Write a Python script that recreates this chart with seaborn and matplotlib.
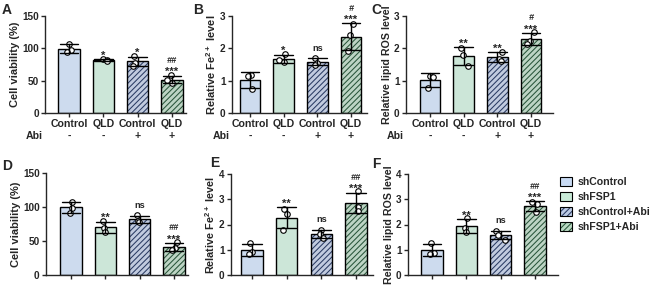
import numpy as np
import pandas as pd
import matplotlib
matplotlib.use("Agg")
import matplotlib.pyplot as plt
import matplotlib.colors as mcolors
import matplotlib.transforms as mtrans
from matplotlib.patches import Patch
import seaborn as sns

# ---------------- data ----------------
groups = ["shControl", "shFSP1", "shControl+Abi", "shFSP1+Abi"]
xlabels_top = ["Control", "QLD", "Control", "QLD"]
abi_signs = ["-", "-", "+", "+"]

viab_A = [[107, 97, 95], [83.5, 82, 80.5], [88, 78, 73], [58, 51, 46]]
fe_B = [[1.17, 1.14, 0.75], [1.82, 1.65, 1.57], [1.70, 1.55, 1.49], [2.75, 2.40, 1.92]]
ros_C = [[1.15, 1.12, 0.78], [2.00, 1.80, 1.45], [1.90, 1.68, 1.60], [2.50, 2.22, 2.14]]
viab_D = [[108, 99, 91], [79, 69, 63], [88, 80, 78], [48, 40, 37]]
fe_E = [[1.25, 0.90, 0.82], [2.60, 2.40, 1.80], [1.78, 1.62, 1.46], [3.32, 2.70, 2.55]]
ros_F = [[1.28, 0.88, 0.84], [2.25, 1.88, 1.72], [1.74, 1.60, 1.40], [2.88, 2.80, 2.50]]

# significance vs. control (stars / ns) and vs. Abi alone (#)
star_A = ["", "*", "*", "***"];   hash_A = ["", "", "", "##"]
star_B = ["", "*", "ns", "***"];  hash_B = ["", "", "", "#"]
star_C = ["", "**", "**", "***"]; hash_C = ["", "", "", "#"]
star_D = ["", "**", "ns", "***"]; hash_D = ["", "", "", "##"]
star_E = ["", "**", "ns", "***"]; hash_E = ["", "", "", "##"]
star_F = ["", "**", "ns", "***"]; hash_F = ["", "", "", "##"]

ylab_viab = "Cell viability (%)"
ylab_fe = r"Relative Fe$^{\mathbf{2+}}$ level"
ylab_ros = "Relative lipid ROS level"

ticks_viab = [0, 50, 100, 150]
ticks_3 = [0, 1, 2, 3]
ticks_4 = [0, 1, 2, 3, 4]

# ---------------- style ----------------
fill_colors = ["#c8daf3", "#c8ead7", "#bccae4", "#b9d8c2"]
hatch_colors = [None, None, "#2a3b63", "#29553a"]
hatches = [None, None, "//////", "//////"]

sns.set_style("ticks")
plt.rcParams["font.family"] = ["Liberation Sans", "DejaVu Sans"]
plt.rcParams["font.weight"] = "bold"
plt.rcParams["mathtext.fontset"] = "custom"
plt.rcParams["mathtext.rm"] = "Liberation Sans:bold"
plt.rcParams["mathtext.bf"] = "Liberation Sans:bold"
plt.rcParams["hatch.linewidth"] = 0.75
plt.rcParams["axes.linewidth"] = 1.0

W, H = 660, 287
fig = plt.figure(figsize=(W / 100, H / 100), dpi=100)

# panel layout in pixels: left, right, top, bottom, first bar centre, last bar centre
panels = [
    dict(vals=viab_A, star=star_A, hsh=hash_A, ylab=ylab_viab, yfs=8.0, ticks=ticks_viab, box=(45, 186, 16, 113, 69, 172), top=True, letter="A", lpos=(2, 3)),
    dict(vals=fe_B, star=star_B, hsh=hash_B, ylab=ylab_fe, yfs=8.0, ticks=ticks_3, box=(232, 367, 16, 113, 250, 351), top=True, letter="B", lpos=(193, 3)),
    dict(vals=ros_C, star=star_C, hsh=hash_C, ylab=ylab_ros, yfs=7.7, ticks=ticks_3, box=(406, 553, 16, 113, 430, 531), top=True, letter="C", lpos=(371, 3)),
    dict(vals=viab_D, star=star_D, hsh=hash_D, ylab=ylab_viab, yfs=8.0, ticks=ticks_viab, box=(46, 188, 173, 275, 71, 174), top=False, letter="D", lpos=(2, 159)),
    dict(vals=fe_E, star=star_E, hsh=hash_E, ylab=ylab_fe, yfs=7.8, ticks=ticks_4, box=(231, 373, 174, 275, 252, 356), top=False, letter="E", lpos=(210, 156)),
    dict(vals=ros_F, star=star_F, hsh=hash_F, ylab=ylab_ros, yfs=7.7, ticks=ticks_4, box=(408, 558, 174, 275, 432, 535), top=False, letter="F", lpos=(372, 157)),
]

np.random.seed(3)
for pnl in panels:
    l, r, t, b, c0, c3 = pnl["box"]
    ax = fig.add_axes([l / W, 1 - b / H, (r - l) / W, (b - t) / H])
    df = pd.DataFrame({"group": np.repeat(groups, 3),
                       "value": np.concatenate([np.array(v, float) for v in pnl["vals"]])})
    sns.barplot(data=df, x="group", y="value", order=groups, hue="group", hue_order=groups,
                palette=fill_colors, legend=False, errorbar="sd", capsize=0.55, width=0.62,
                edgecolor="black", linewidth=1.0,
                err_kws={"color": "black", "linewidth": 1.0}, ax=ax)
    bars = sorted(ax.patches, key=lambda p: p.get_x())
    for i, p in enumerate(bars):
        if hatches[i]:
            p.set_hatch(hatches[i])
            p._hatch_color = mcolors.to_rgba(hatch_colors[i])
    sns.stripplot(data=df, x="group", y="value", order=groups, color="white",
                  edgecolor="black", linewidth=0.8, size=4, jitter=0.14, ax=ax)
    for c in ax.collections:
        c.set_zorder(3)
    for ln in ax.lines:
        ln.set_zorder(4)

    s = (c3 - c0) / 3
    ax.set_xlim((l - c0) / s, (r - c0) / s)
    ax.set_ylim(pnl["ticks"][0], pnl["ticks"][-1])
    ax.set_yticks(pnl["ticks"])
    ax.set_yticklabels([str(v) for v in pnl["ticks"]], fontsize=7.2, fontweight="bold")
    ax.set_xticks(range(4))
    ax.set_xlabel("")
    ax.set_ylabel(pnl["ylab"], fontsize=pnl["yfs"], fontweight="bold", labelpad=1.5)
    ax.tick_params(axis="both", length=3, width=1.0, pad=1.5)
    sns.despine(ax=ax)

    if pnl["top"]:
        ax.set_xticklabels(xlabels_top, fontsize=7.6, fontweight="bold")
        hpx = b - t
        wpx = r - l
        tr = mtrans.blended_transform_factory(ax.transData, ax.transAxes)
        y_abi = -(136 - b) / hpx
        for i, sgn in enumerate(abi_signs):
            ax.text(i, y_abi, sgn, transform=tr, ha="center", va="center",
                    fontsize=7.6, fontweight="bold")
        ax.text(-2 / wpx, y_abi, "Abi", transform=ax.transAxes, ha="right", va="center",
                fontsize=7.6, fontweight="bold")
    else:
        ax.set_xticklabels([])

    for i, (v, st, hs) in enumerate(zip(pnl["vals"], pnl["star"], pnl["hsh"])):
        top = np.mean(v) + np.std(v, ddof=1)
        if st == "ns":
            ax.annotate(st, xy=(i, top), xytext=(0, 5.5), textcoords="offset points",
                        ha="center", va="baseline", fontsize=6.6, fontweight="bold",
                        annotation_clip=False)
        elif st:
            ax.annotate(st, xy=(i, top), xytext=(0, 0.3), textcoords="offset points",
                        ha="center", va="baseline", fontsize=8, fontweight="bold",
                        annotation_clip=False)
        if hs:
            ax.annotate(hs, xy=(i, top), xytext=(0, 9.0), textcoords="offset points",
                        ha="center", va="baseline", fontsize=6.6, fontweight="bold",
                        style="italic", annotation_clip=False)

    fig.text(pnl["lpos"][0] / W, 1 - pnl["lpos"][1] / H, pnl["letter"],
             ha="left", va="top", fontsize=10, fontweight="bold")

# legend
handles = []
for i, g in enumerate(groups):
    hp = Patch(facecolor=fill_colors[i], edgecolor="black", linewidth=0.8,
               hatch=hatches[i] if hatches[i] else None, label=g)
    if hatches[i]:
        hp._hatch_color = mcolors.to_rgba(hatch_colors[i])
    handles.append(hp)
leg = fig.legend(handles=handles, loc="upper left", bbox_to_anchor=(560 / W, 1 - 177 / H),
                 frameon=False, fontsize=7.6, handlelength=1.1, handleheight=0.95,
                 handletextpad=0.55, labelspacing=0.45, borderaxespad=0, borderpad=0)
for i, p in enumerate(leg.get_patches()):
    if hatches[i]:
        p._hatch_color = mcolors.to_rgba(hatch_colors[i])
for txt in leg.get_texts():
    txt.set_fontweight("bold")

fig.savefig("out.png", dpi=100)
